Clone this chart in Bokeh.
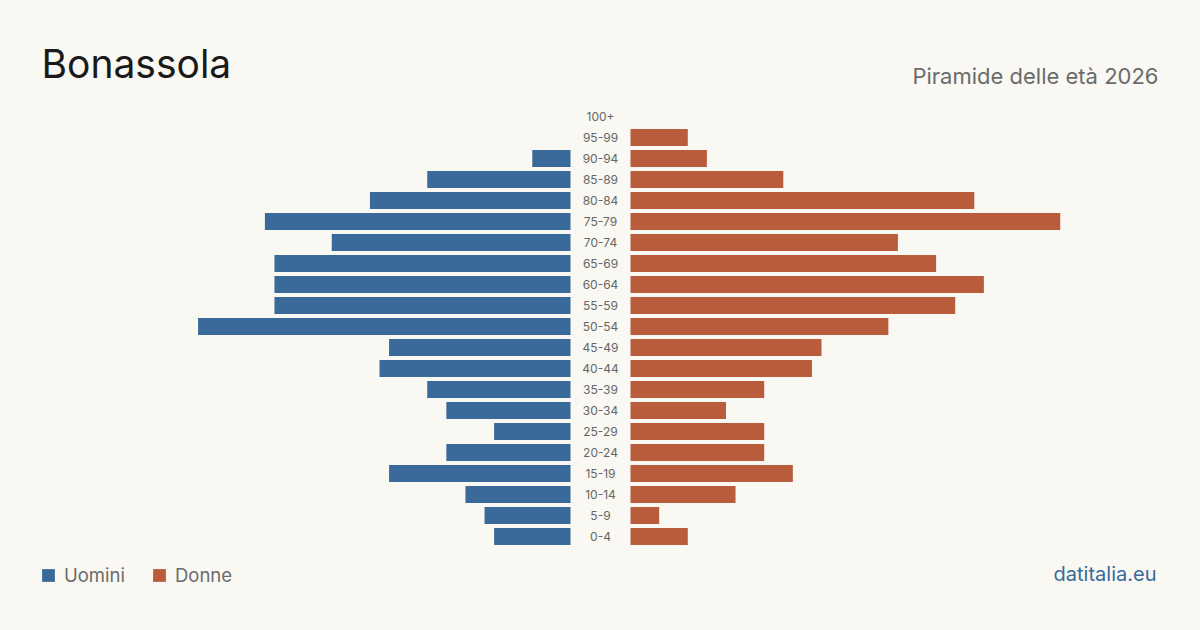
from bokeh.plotting import figure
from bokeh.models import ColumnDataSource, Range1d, Label, Legend, LegendItem
from bokeh.core.properties import value
from bokeh.embed import file_html
from bokeh.resources import INLINE

age_groups = ["0-4", "5-9", "10-14", "15-19", "20-24", "25-29", "30-34", "35-39",
              "40-44", "45-49", "50-54", "55-59", "60-64", "65-69", "70-74",
              "75-79", "80-84", "85-89", "90-94", "95-99", "100+"]
men = [8, 9, 11, 19, 13, 8, 13, 15, 20, 19, 39, 31, 31, 31, 25, 32, 21, 15, 4, 0, 0]
women = [6, 3, 11, 17, 14, 14, 10, 14, 19, 20, 27, 34, 37, 32, 28, 45, 36, 16, 8, 6, 0]

title = "Bonassola"
subtitle = "Piramide delle età 2026"
source_label = "datitalia.eu"
series_names = ["Uomini", "Donne"]

BLUE = "#3a6a9a"
ORANGE = "#b95c3c"
BG = "#f9f8f3"
FONT = "Inter"

W, H = 1200, 630
px_per_unit = 9.55
gap = 30 / px_per_unit
half = (W / 2) / px_per_unit

idx = list(range(len(age_groups)))
src = ColumnDataSource(dict(
    y=idx,
    age=age_groups,
    m_left=[-(gap + v) for v in men],
    m_right=[-gap] * len(men),
    w_left=[gap] * len(women),
    w_right=[gap + v for v in women],
))

p = figure(width=W, height=H, output_backend="svg", toolbar_location=None,
           x_range=Range1d(-half, half), y_range=Range1d(-94 / 21, 536 / 21),
           min_border=0, border_fill_color=BG, background_fill_color=BG,
           outline_line_color=None)
p.axis.visible = False
p.grid.visible = False

r_m = p.hbar(y="y", left="m_left", right="m_right", height=17 / 21,
             fill_color=BLUE, line_color=None, source=src)
r_w = p.hbar(y="y", left="w_left", right="w_right", height=17 / 21,
             fill_color=ORANGE, line_color=None, source=src)

p.text(x=0, y="y", text="age", source=src, text_align="center", text_baseline="middle",
       text_font=value(FONT), text_font_size="12px", text_color="#666666")

p.add_layout(Label(x=41, y=H - 80 + 17, x_units="screen", y_units="screen", text=title,
                   text_font=FONT, text_font_size="39px", text_color="#1a1a1a",
                   text_baseline="alphabetic"))
p.add_layout(Label(x=1158, y=H - 84 + 9, x_units="screen", y_units="screen", text=subtitle,
                   text_font=FONT, text_font_size="22px", text_color="#6b6b6b",
                   text_align="right", text_baseline="alphabetic"))
p.add_layout(Label(x=1156, y=H - 582 + 9, x_units="screen", y_units="screen", text=source_label,
                   text_font=FONT, text_font_size="20px", text_color=BLUE,
                   text_align="right", text_baseline="alphabetic"))

legend = Legend(items=[LegendItem(label=series_names[0], renderers=[r_m]),
                       LegendItem(label=series_names[1], renderers=[r_w])],
                orientation="horizontal", location=(40, 44), padding=0, margin=0,
                spacing=26, label_standoff=8, glyph_width=16, glyph_height=16,
                label_text_font=FONT, label_text_font_size="18.5px",
                label_text_color="#6b6b6b", border_line_color=None,
                background_fill_alpha=0)
p.add_layout(legend)

open("out.html", "w").write(file_html(p, INLINE))
